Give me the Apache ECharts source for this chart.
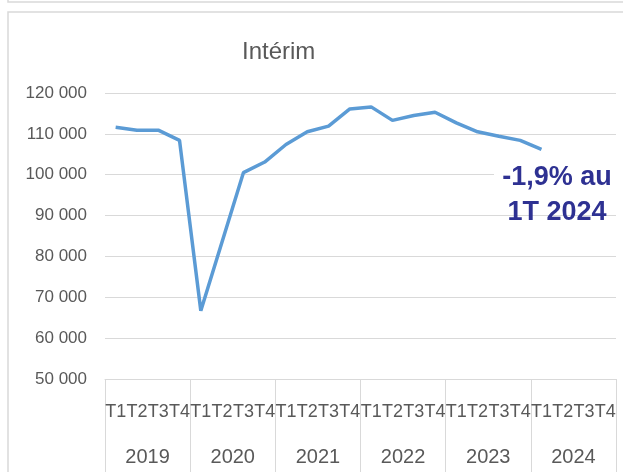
<!DOCTYPE html>
<html>
<head>
<meta charset="utf-8">
<title>Intérim</title>
<script src="https://cdn.jsdelivr.net/npm/echarts@6/dist/echarts.min.js"></script>
<style>
  html, body { margin: 0; padding: 0; background: #ffffff; }
  #chart { width: 623px; height: 472px; }
</style>
</head>
<body>
<div id="chart"></div>
<script>
  // chart data
  const years = ['2019', '2020', '2021', '2022', '2023', '2024'];
  const quarters = ['T1', 'T2', 'T3', 'T4'];
  const interim = [
    111600, 110900, 110900, 108400,
    66700, 83600, 100500, 103100,
    107400, 110500, 111900, 116100,
    116600, 113300, 114500, 115300,
    112700, 110500, 109400, 108400,
    106200, null, null, null
  ];
  const yTicks = { min: 50000, max: 120000, step: 10000 };
  const chartTitle = 'Intérim';
  const noteLines = ['-1,9% au', '1T 2024'];

  const quarterLabels = [];
  years.forEach(() => quarters.forEach(q => quarterLabels.push(q)));

  const grey = '#595959';
  const gridGrey = '#d9d9d9';
  const font = '"Liberation Sans", Arial, sans-serif';

  const chart = echarts.init(document.getElementById('chart'));

  const option = {
    animation: false,
    backgroundColor: '#ffffff',
    title: {
      text: chartTitle,
      left: 237,
      top: 35,
      textStyle: { color: grey, fontSize: 24, fontWeight: 'normal', fontFamily: font }
    },
    grid: { left: 105, right: 7, top: 93, bottom: 93 },
    xAxis: [
      {
        type: 'category',
        data: quarterLabels,
        position: 'bottom',
        axisLine: { show: false },
        axisTick: { show: false },
        axisLabel: { interval: 0, margin: 24, color: grey, fontSize: 18, fontFamily: font }
      },
      {
        type: 'category',
        data: years,
        position: 'bottom',
        axisLine: { show: true, lineStyle: { color: gridGrey, width: 1 } },
        axisTick: { show: true, length: 95, interval: 0, lineStyle: { color: gridGrey, width: 1 } },
        axisLabel: { interval: 0, margin: 68, color: grey, fontSize: 20, fontFamily: font }
      }
    ],
    yAxis: {
      type: 'value',
      min: yTicks.min,
      max: yTicks.max,
      interval: yTicks.step,
      axisLine: { show: false },
      axisTick: { show: false },
      splitLine: { lineStyle: { color: gridGrey, width: 1 } },
      axisLabel: {
        margin: 18,
        color: grey,
        fontSize: 17,
        fontFamily: font,
        formatter: v => String(v).replace(/\B(?=(\d{3})+(?!\d))/g, ' ')
      }
    },
    series: [
      {
        name: chartTitle,
        type: 'line',
        xAxisIndex: 0,
        data: interim,
        symbol: 'none',
        connectNulls: false,
        lineStyle: { color: '#5b9bd5', width: 3.5 }
      }
    ],
    graphic: [
      // outer frames
      { type: 'rect', shape: { x: 8, y: -30, width: 700, height: 32 }, style: { fill: 'none', stroke: gridGrey, lineWidth: 1.5 }, silent: true },
      { type: 'rect', shape: { x: 8, y: 12, width: 700, height: 520 }, style: { fill: 'none', stroke: gridGrey, lineWidth: 1.5 }, silent: true },
      // text box of the note hides the grid behind it
      { type: 'rect', shape: { x: 494, y: 164, width: 140, height: 49 }, style: { fill: '#ffffff' }, silent: true, z: 50 },
      {
        type: 'text',
        x: 557,
        y: 160,
        z: 60,
        style: {
          text: noteLines.join('\n'),
          fill: '#2e3192',
          font: 'bold 27px "Liberation Sans", Arial, sans-serif',
          align: 'center',
          verticalAlign: 'top',
          lineHeight: 35
        }
      }
    ]
  };

  chart.setOption(option);
</script>
</body>
</html>
